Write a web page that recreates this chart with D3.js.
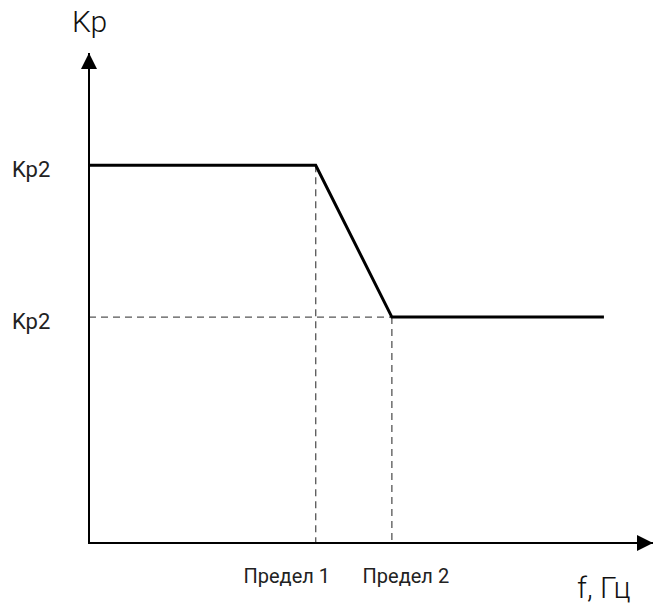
<!DOCTYPE html>
<html><head><meta charset="utf-8">
<script src="https://cdn.jsdelivr.net/npm/d3@7"></script>
<style>html,body{margin:0;padding:0;background:#fff;} svg{display:block;}</style>
</head><body>
<script>
// Data
const xValues = [0, 40.2, 53.7, 91.3];       // frequency (relative)
const yValues = [77.1, 77.1, 46.1, 46.1];    // Kp (relative)
const limitLabels = ["Предел 1", "Предел 2"];
const limitX = [40.2, 53.7];
const yTickLabels = ["Kp2", "Kp2"];
const yTickValues = [77.1, 46.1];
const xTitle = "f, Гц";
const yTitle = "Kp";

const W = 653, H = 607;
const svg = d3.select("body").append("svg").attr("width", W).attr("height", H);
const x = d3.scaleLinear().domain([0, 100]).range([89, 653]);
const y = d3.scaleLinear().domain([0, 100]).range([543, 53]);

const defs = svg.append("defs");
defs.append("marker").attr("id","arr").attr("viewBox","0 0 10 10")
  .attr("refX",10).attr("refY",5).attr("markerWidth",8).attr("markerHeight",8)
  .attr("markerUnits","strokeWidth").attr("orient","auto")
  .append("path").attr("d","M0,0 L10,5 L0,10 Z").attr("fill","#000");

// dashed guides
const g = svg.append("g");
g.selectAll("line.v").data(limitX.map((v,i)=>({v, yv: yValues[i+1]}))).join("line")
  .attr("x1", d=>x(d.v)).attr("x2", d=>x(d.v))
  .attr("y1", d=>y(d.yv)).attr("y2", y(0))
  .attr("stroke","#555").attr("stroke-width",1.3).attr("stroke-dasharray","7,5");
g.append("line")
  .attr("x1", x(0)).attr("x2", x(limitX[1]))
  .attr("y1", y(yValues[2])).attr("y2", y(yValues[2]))
  .attr("stroke","#555").attr("stroke-width",1.3).attr("stroke-dasharray","7,5");

// axes
svg.append("line").attr("x1", x(0)).attr("y1", y(0)).attr("x2", x(100)).attr("y2", y(0))
  .attr("stroke","#000").attr("stroke-width",2).attr("marker-end","url(#arr)");
svg.append("line").attr("x1", x(0)).attr("y1", y(0)+1).attr("x2", x(0)).attr("y2", y(100))
  .attr("stroke","#000").attr("stroke-width",2).attr("marker-end","url(#arr)");

// main line
const pts = xValues.map((v,i)=>[v, yValues[i]]);
svg.append("path").attr("d", d3.line().x(d=>x(d[0])).y(d=>y(d[1]))(pts))
  .attr("fill","none").attr("stroke","#000").attr("stroke-width",3).attr("stroke-linejoin","miter");

const font = "Roboto, 'DejaVu Sans', sans-serif";
// y tick labels
svg.selectAll("text.yt").data(yTickValues).join("text")
  .attr("x", 12).attr("y", d=>y(d)+12)
  .attr("font-family", font).attr("font-size", 22).attr("fill","#222")
  .text((d,i)=>yTickLabels[i]);
// limit labels
svg.selectAll("text.lim").data(limitX).join("text")
  .attr("x", (d,i)=> i===0 ? x(d)-29 : x(d)+14).attr("y", 583)
  .attr("text-anchor","middle")
  .attr("font-family", font).attr("font-size", 20).attr("fill","#222")
  .text((d,i)=>limitLabels[i]);
// titles
svg.append("text").attr("x", 72).attr("y", 32)
  .attr("font-family", font).attr("font-size", 30).attr("font-weight", 300).attr("fill","#111").text(yTitle);
svg.append("text").attr("x", 577).attr("y", 598)
  .attr("font-family", font).attr("font-size", 30).attr("font-weight", 300).attr("fill","#111").text(xTitle);
</script>
</body></html>
